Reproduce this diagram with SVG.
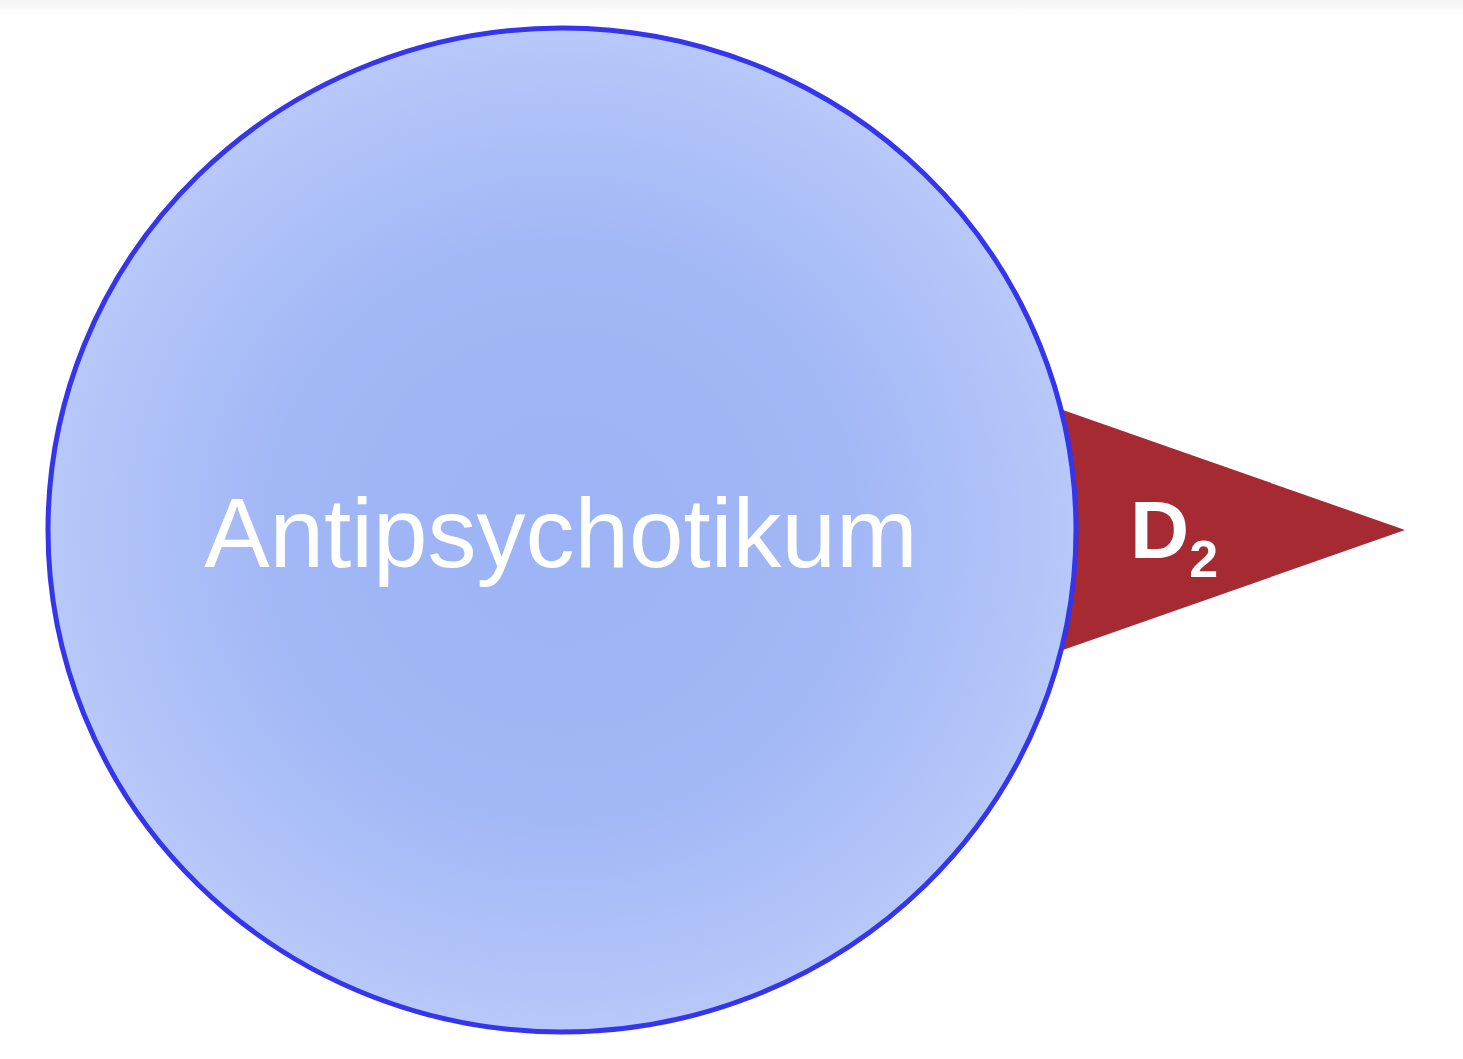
<svg xmlns="http://www.w3.org/2000/svg" width="1463" height="1059" viewBox="0 0 1463 1059">
<defs>
<radialGradient id="g" cx="0.5" cy="0.5" r="0.5">
<stop offset="0" stop-color="#9cb3f5"/>
<stop offset="0.55" stop-color="#a1b7f6"/>
<stop offset="1" stop-color="#b7c8f9"/>
</radialGradient>
<linearGradient id="top" x1="0" y1="0" x2="0" y2="1">
<stop offset="0" stop-color="#f4f4f4"/>
<stop offset="1" stop-color="#ffffff"/>
</linearGradient>
<style>
.lbl{font-family:"Liberation Sans",Arial,sans-serif;fill:#ffffff}
</style>
</defs>
<rect width="1463" height="1059" fill="#ffffff"/>
<rect x="0" y="0" width="1463" height="16" fill="url(#top)"/>
<g id="receptor">
<polygon points="1060,409 1405,530 1060,651" fill="#a52a32"/>
<text class="lbl" x="1130" y="558" font-size="82" font-weight="bold">D<tspan font-size="52" dy="19">2</tspan></text>
</g>
<g id="drug">
<ellipse cx="562" cy="530" rx="514" ry="502" fill="url(#g)" stroke="#3535ec" stroke-width="5"/>
<text class="lbl" x="561" y="567" font-size="98" text-anchor="middle">Antipsychotikum</text>
</g>
<g id="connectors"/>
</svg>
